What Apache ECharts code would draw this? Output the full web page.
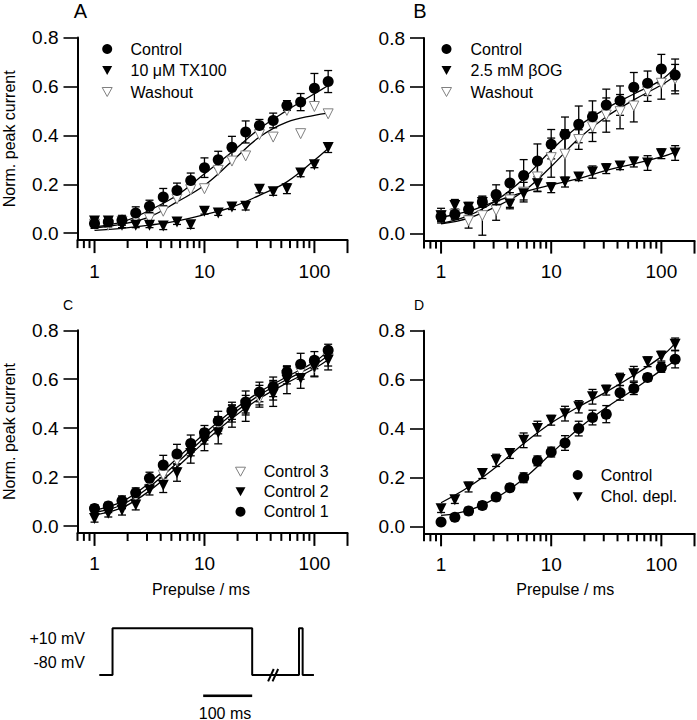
<!DOCTYPE html>
<html>
<head>
<meta charset="utf-8">
<script src="https://cdn.jsdelivr.net/npm/echarts@6/dist/echarts.min.js"></script>
<style>
	html, body { margin: 0; padding: 0; background: #fff; }
	#chart { width: 697px; height: 720px; }
</style>
</head>
<body>
<div id="chart"></div>
<script>
// prepulse durations (ms), one point per 1/8 decade
var PREPULSE = [1, 1.334, 1.778, 2.371, 3.162, 4.217, 5.623, 7.499, 10, 13.34, 17.78, 23.71, 31.62, 42.17, 56.23, 74.99, 100, 133.4];
var FIT_X = [1, 1.778, 3.162, 5.623, 10, 17.78, 31.62, 56.23, 100, 133.4];

var X_MIN = 0.7, X_MAX = 200, Y_MIN = -0.028, Y_MAX = 0.8;
var X_MAJOR = [1, 10, 100, 200];
var X_LABELS = [1, 10, 100];
var X_MINOR = [0.7, 0.8, 0.9, 2, 3, 4, 5, 6, 7, 8, 9, 20, 30, 40, 50, 60, 70, 80, 90];
var Y_TICKS = [0, 0.2, 0.4, 0.6, 0.8];

// panel A
var A_CTRL = [0.04, 0.046, 0.053, 0.083, 0.11, 0.148, 0.175, 0.216, 0.268, 0.30, 0.351, 0.414, 0.44, 0.461, 0.522, 0.536, 0.593, 0.62];
var A_CTRL_ERR = [0.02, 0.02, 0.02, 0.025, 0.025, 0.035, 0.03, 0.03, 0.04, 0.035, 0.045, 0.045, 0.025, 0.03, 0.02, 0.035, 0.06, 0.045];
var A_TX = [0.05, 0.05, 0.033, 0.033, 0.033, 0.03, 0.046, 0.035, 0.09, 0.083, 0.107, 0.11, 0.18, 0.17, 0.182, 0.246, 0.28, 0.35];
var A_TX_ERR = [0.015, 0.015, 0.01, 0.01, 0.01, 0.015, 0.01, 0.015, 0.012, 0.01, 0.01, 0.015, 0.015, 0.015, 0.02, 0.015, 0.012, 0.02];
var A_WASH = [0.037, 0.033, 0.049, 0.06, 0.06, 0.09, 0.14, 0.178, 0.182, 0.257, 0.295, 0.316, 0.403, 0.393, 0.502, 0.407, 0.518, 0.488];
var A_CTRL_FIT = [0.026, 0.046, 0.094, 0.155, 0.243, 0.332, 0.427, 0.502, 0.57, 0.604];
var A_WASH_FIT = [0.022, 0.037, 0.067, 0.128, 0.196, 0.294, 0.393, 0.454, 0.482, 0.491];
var A_TX_FIT = [0.012, 0.02, 0.033, 0.05, 0.076, 0.107, 0.155, 0.21, 0.298, 0.346];

// panel B
var B_CTRL = [0.07, 0.08, 0.10, 0.13, 0.16, 0.207, 0.238, 0.297, 0.366, 0.407, 0.447, 0.478, 0.526, 0.544, 0.599, 0.615, 0.673, 0.649];
var B_CTRL_ERR = [0.02, 0.02, 0.025, 0.02, 0.04, 0.05, 0.065, 0.07, 0.06, 0.07, 0.075, 0.065, 0.065, 0.06, 0.06, 0.05, 0.06, 0.065];
var B_BOG = [0.074, 0.115, 0.108, 0.128, 0.135, 0.122, 0.163, 0.204, 0.188, 0.211, 0.232, 0.252, 0.266, 0.277, 0.293, 0.289, 0.327, 0.33];
var B_BOG_ERR = [0.03, 0.025, 0.02, 0.02, 0.02, 0.02, 0.025, 0.03, 0.02, 0.02, 0.015, 0.025, 0.02, 0.015, 0.02, 0.03, 0.02, 0.03];
var B_WASH = [0.074, 0.08, 0.053, 0.074, 0.095, 0.138, 0.17, 0.232, 0.311, 0.325, 0.385, 0.437, 0.485, 0.499, 0.522, 0.581, 0.615, 0.632];
var B_WASH_ERR = [0.02, 0.02, 0.03, 0.08, 0.04, 0.03, 0.04, 0.06, 0.08, 0.1, 0.04, 0.06, 0.07, 0.07, 0.065, 0.04, 0.065, 0.06];
var B_CTRL_FIT = [0.042, 0.074, 0.136, 0.225, 0.341, 0.44, 0.512, 0.571, 0.629, 0.68];
var B_WASH_FIT = [0.04, 0.064, 0.111, 0.174, 0.275, 0.389, 0.478, 0.547, 0.608, 0.645];
var B_BOG_FIT = [0.067, 0.092, 0.133, 0.17, 0.2, 0.225, 0.259, 0.286, 0.314, 0.334];

// panel C
var C_CTRL1 = [0.072, 0.082, 0.103, 0.136, 0.195, 0.249, 0.294, 0.337, 0.381, 0.429, 0.471, 0.507, 0.548, 0.569, 0.63, 0.661, 0.678, 0.718];
var C_CTRL1_ERR = [0.015, 0.015, 0.02, 0.02, 0.025, 0.04, 0.04, 0.035, 0.03, 0.04, 0.035, 0.045, 0.04, 0.04, 0.025, 0.045, 0.035, 0.025];
var C_CTRL2 = [0.031, 0.052, 0.065, 0.086, 0.147, 0.167, 0.218, 0.297, 0.348, 0.381, 0.449, 0.473, 0.535, 0.539, 0.596, 0.603, 0.65, 0.678];
var C_CTRL2_ERR = [0.015, 0.015, 0.02, 0.02, 0.02, 0.03, 0.035, 0.04, 0.04, 0.045, 0.045, 0.045, 0.04, 0.05, 0.055, 0.04, 0.04, 0.04];
var C_CTRL3 = [0.058, 0.065, 0.086, 0.12, 0.181, 0.208, 0.267, 0.317, 0.365, 0.412, 0.46, 0.494, 0.521, 0.555, 0.616, 0.63, 0.648, 0.684];
var C_CTRL3_ERR = [0.01, 0.01, 0.015, 0.02, 0.02, 0.025, 0.03, 0.03, 0.03, 0.035, 0.035, 0.04, 0.035, 0.04, 0.035, 0.03, 0.035, 0.03];
var C_CTRL1_FIT = [0.065, 0.1, 0.177, 0.276, 0.378, 0.47, 0.548, 0.61, 0.671, 0.716];
var C_CTRL2_FIT = [0.045, 0.075, 0.144, 0.24, 0.344, 0.44, 0.521, 0.585, 0.644, 0.68];
var C_CTRL3_FIT = [0.056, 0.087, 0.16, 0.258, 0.361, 0.456, 0.535, 0.599, 0.657, 0.698];

// panel D
var D_CTRL = [0.018, 0.038, 0.063, 0.086, 0.12, 0.158, 0.199, 0.268, 0.304, 0.341, 0.40, 0.445, 0.459, 0.546, 0.564, 0.609, 0.65, 0.683];
var D_CTRL_ERR = [0.01, 0.012, 0.015, 0.015, 0.015, 0.015, 0.02, 0.02, 0.02, 0.03, 0.03, 0.03, 0.035, 0.03, 0.025, 0.015, 0.02, 0.035];
var D_CHOL = [0.072, 0.109, 0.161, 0.216, 0.27, 0.298, 0.352, 0.40, 0.434, 0.461, 0.489, 0.53, 0.557, 0.601, 0.624, 0.673, 0.696, 0.745];
var D_CHOL_ERR = [0.015, 0.015, 0.02, 0.02, 0.025, 0.02, 0.03, 0.03, 0.02, 0.03, 0.025, 0.03, 0.02, 0.025, 0.03, 0.02, 0.02, 0.025];
var D_CTRL_FIT = [0.045, 0.066, 0.117, 0.195, 0.298, 0.40, 0.486, 0.56, 0.639, 0.677];
var D_CHOL_FIT = [0.097, 0.161, 0.243, 0.339, 0.423, 0.489, 0.55, 0.618, 0.694, 0.748];

// stimulation protocol (ms, mV)
var PROTO_T = [0, 27, 27, 312, 312, 407.5, 407.5, 415, 415, 438];
var PROTO_V = [-80, -80, 10, 10, -80, -80, 10, 10, -80, -80];
var SCALE_T = [212, 312];
var SCALE_V = [-120, -120];
var BREAK1_T = [344.5, 356];
var BREAK2_T = [353.5, 365];
var BREAK_V = [-92.3, -68.4];

var FONT = 'Liberation Sans, Arial, Helvetica, sans-serif';
var TRI_DOWN = 'path://M0,0L10,0L5,9Z';

var chart = echarts.init(document.getElementById('chart'), null, {renderer: 'svg'});

// the prepulse axis is logarithmic: positions are given to a value axis as log10(ms)
var lg = function(v) { return Math.log10(v); };

function pairs(xs, ys) {
	return xs.map(function(x, i) { return [x, ys[i]]; });
}

function errBars(g, ys, es) {
	return {
		type: 'custom',
		name: 'err',
		xAxisIndex: g,
		yAxisIndex: g,
		silent: true,
		z: 1,
		encode: {x: 0, y: 1},
		data: PREPULSE.map(function(x, i) { return [lg(x), ys[i], es[i]]; }),
		renderItem: function(params, api) {
			var x = api.value(0), y = api.value(1), e = api.value(2);
			var hi = api.coord([x, y + e]);
			var lo = api.coord([x, y - e]);
			var w = 4;
			var st = {stroke: '#000', lineWidth: 1.3};
			return {
				type: 'group',
				children: [
					{type: 'line', shape: {x1: hi[0], y1: hi[1], x2: lo[0], y2: lo[1]}, style: st},
					{type: 'line', shape: {x1: hi[0] - w, y1: hi[1], x2: hi[0] + w, y2: hi[1]}, style: st},
					{type: 'line', shape: {x1: lo[0] - w, y1: lo[1], x2: lo[0] + w, y2: lo[1]}, style: st}
				]
			};
		}
	};
}

// tick marks below the log axis: long ones at the decades, short ones in between
function xTicks(g) {
	var rows = X_MAJOR.map(function(v) { return [lg(v), Y_MIN, 13]; })
		.concat(X_MINOR.map(function(v) { return [lg(v), Y_MIN, 8]; }));
	return {
		type: 'custom',
		name: 'ticks',
		xAxisIndex: g,
		yAxisIndex: g,
		silent: true,
		clip: false,
		z: 10,
		encode: {x: 0, y: 1},
		data: rows,
		renderItem: function(params, api) {
			var p = api.coord([api.value(0), api.value(1)]);
			return {
				type: 'rect',
				shape: {x: p[0] - 1, y: p[1], width: 2, height: api.value(2)},
				style: {fill: '#000'}
			};
		}
	};
}

function fitLine(g, ys) {
	return {
		type: 'line',
		name: 'fit',
		xAxisIndex: g,
		yAxisIndex: g,
		data: pairs(FIT_X.map(lg), ys),
		smooth: 0.4,
		showSymbol: false,
		silent: true,
		z: 2,
		lineStyle: {color: '#000', width: 1.3}
	};
}

// kind: 'dot' | 'tri' | 'open'
function points(g, name, ys, kind) {
	var s = {
		type: 'scatter',
		name: name,
		xAxisIndex: g,
		yAxisIndex: g,
		data: pairs(PREPULSE.map(lg), ys),
		symbolSize: 11,
		z: 3,
		silent: true
	};
	if(kind === 'dot') {
		s.symbol = 'circle';
		s.itemStyle = {color: '#000', borderWidth: 0, opacity: 1};
	}else if(kind === 'tri') {
		s.symbol = 'triangle';
		s.symbolRotate = 180;
		s.itemStyle = {color: '#000', borderWidth: 0, opacity: 1};
	}else {
		s.symbol = 'triangle';
		s.symbolRotate = 180;
		s.symbolSize = 10;
		s.itemStyle = {color: '#fff', borderColor: '#808080', borderWidth: 1, opacity: 1};
	}
	return s;
}

var grids = [
	{left: 77.5, top: 37.5, width: 270, height: 202.6},
	{left: 424, top: 38, width: 270.5, height: 202.6},
	{left: 77.5, top: 330.3, width: 270, height: 202.6},
	{left: 424, top: 330.7, width: 270.5, height: 202.6},
	{left: 99.3, top: 623.1, width: 215.6, height: 72.7}
];

var xAxes = [];
var yAxes = [];
[0, 1, 2, 3].forEach(function(g) {
	var x = {
		type: 'value',
		gridIndex: g,
		position: 'bottom',
		min: lg(X_MIN),
		max: lg(X_MAX),
		axisLine: {show: true, onZero: false, lineStyle: {color: '#000', width: 2}},
		axisTick: {show: false},
		axisLabel: {
			customValues: X_LABELS.map(lg), margin: 21.5, color: '#000', fontSize: 19, fontFamily: FONT,
			formatter: function(v) { return String(Math.round(Math.pow(10, v))); }
		},
		splitLine: {show: false}
	};
	if(g >= 2) {
		x.name = 'Prepulse / ms';
		x.nameLocation = 'middle';
		x.nameGap = 48.5;
		x.nameTextStyle = {fontSize: 16, fontFamily: FONT, color: '#000', padding: g === 2 ? [0, 23, 0, 0] : [0, 0, 0, 12]};
	}
	xAxes.push(x);
	var y = {
		type: 'value',
		gridIndex: g,
		min: Y_MIN,
		max: Y_MAX,
		axisLine: {show: true, onZero: false, lineStyle: {color: '#000', width: 2}},
		axisTick: {show: true, customValues: Y_TICKS, length: 14, lineStyle: {color: '#000', width: 1.6}},
		axisLabel: {
			customValues: Y_TICKS, margin: 19, color: '#000', fontSize: 19, fontFamily: FONT,
			formatter: function(v) { return v.toFixed(1); }
		},
		splitLine: {show: false}
	};
	if(g % 2 === 0) {
		y.name = 'Norm. peak current';
		y.nameLocation = 'middle';
		y.nameGap = 60;
		y.nameTextStyle = {fontSize: 16, fontFamily: FONT, color: '#000'};
	}
	yAxes.push(y);
});
// protocol axes (hidden)
xAxes.push({type: 'value', gridIndex: 4, min: 0, max: 440, show: false});
yAxes.push({type: 'value', gridIndex: 4, min: -120, max: 20, show: false});

var series = [
	// A
	errBars(0, A_CTRL, A_CTRL_ERR),
	errBars(0, A_TX, A_TX_ERR),
	fitLine(0, A_CTRL_FIT),
	fitLine(0, A_WASH_FIT),
	fitLine(0, A_TX_FIT),
	points(0, 'Washout', A_WASH, 'open'),
	points(0, '10 μM TX100', A_TX, 'tri'),
	points(0, 'Control', A_CTRL, 'dot'),
	// B
	errBars(1, B_CTRL, B_CTRL_ERR),
	errBars(1, B_BOG, B_BOG_ERR),
	errBars(1, B_WASH, B_WASH_ERR),
	fitLine(1, B_CTRL_FIT),
	fitLine(1, B_WASH_FIT),
	fitLine(1, B_BOG_FIT),
	points(1, 'Washout', B_WASH, 'open'),
	points(1, '2.5 mM βOG', B_BOG, 'tri'),
	points(1, 'Control', B_CTRL, 'dot'),
	// C
	errBars(2, C_CTRL1, C_CTRL1_ERR),
	errBars(2, C_CTRL2, C_CTRL2_ERR),
	errBars(2, C_CTRL3, C_CTRL3_ERR),
	fitLine(2, C_CTRL1_FIT),
	fitLine(2, C_CTRL2_FIT),
	fitLine(2, C_CTRL3_FIT),
	points(2, 'Control 3', C_CTRL3, 'open'),
	points(2, 'Control 2', C_CTRL2, 'tri'),
	points(2, 'Control 1', C_CTRL1, 'dot'),
	// D
	errBars(3, D_CTRL, D_CTRL_ERR),
	errBars(3, D_CHOL, D_CHOL_ERR),
	fitLine(3, D_CTRL_FIT),
	fitLine(3, D_CHOL_FIT),
	points(3, 'Chol. depl.', D_CHOL, 'tri'),
	points(3, 'Control', D_CTRL, 'dot'),
	// protocol
	{
		type: 'line', name: 'protocol', xAxisIndex: 4, yAxisIndex: 4, silent: true,
		data: pairs(PROTO_T, PROTO_V), showSymbol: false,
		lineStyle: {color: '#000', width: 2}
	},
	{
		type: 'line', name: 'scalebar', xAxisIndex: 4, yAxisIndex: 4, silent: true,
		data: pairs(SCALE_T, SCALE_V), showSymbol: false,
		lineStyle: {color: '#000', width: 2.7}
	},
	{
		type: 'line', name: 'break1', xAxisIndex: 4, yAxisIndex: 4, silent: true,
		data: pairs(BREAK1_T, BREAK_V), showSymbol: false,
		lineStyle: {color: '#000', width: 2}
	},
	{
		type: 'line', name: 'break2', xAxisIndex: 4, yAxisIndex: 4, silent: true,
		data: pairs(BREAK2_T, BREAK_V), showSymbol: false,
		lineStyle: {color: '#000', width: 2}
	},
	xTicks(0), xTicks(1), xTicks(2), xTicks(3)
];

function legendItem(name, kind) {
	if(kind === 'dot') {
		return {name: name, icon: 'circle', itemStyle: {color: '#000', borderWidth: 0}};
	}
	if(kind === 'tri') {
		return {name: name, icon: TRI_DOWN, itemStyle: {color: '#000', borderWidth: 0}};
	}
	return {name: name, icon: TRI_DOWN, itemStyle: {color: '#fff', borderColor: '#808080', borderWidth: 1}};
}

function legend(items, left, top, gap, pad) {
	return {
		data: items,
		orient: 'vertical',
		left: left,
		top: top,
		padding: 0,
		itemWidth: 10,
		itemHeight: 10,
		itemGap: gap,
		symbolRotate: 0,
		selectedMode: false,
		textStyle: {fontSize: 16, fontFamily: FONT, color: '#000', lineHeight: 16, padding: [0, 0, 0, pad]}
	};
}

var option = {
	animation: false,
	grid: grids,
	xAxis: xAxes,
	yAxis: yAxes,
	legend: [
		legend([legendItem('Control', 'dot'), legendItem('10 μM TX100', 'tri'), legendItem('Washout', 'open')], 101.7, 41, 5.5, 13.3),
		legend([legendItem('Control', 'dot'), legendItem('2.5 mM βOG', 'tri'), legendItem('Washout', 'open')], 441, 41, 5.5, 14),
		legend([legendItem('Control 3', 'open'), legendItem('Control 2', 'tri'), legendItem('Control 1', 'dot')], 235, 463.7, 4, 13.3),
		legend([legendItem('Control', 'dot'), legendItem('Chol. depl.', 'tri')], 572.7, 467, 5.7, 13)
	],
	graphic: [
		{type: 'text', x: 80.5, y: 11, style: {text: 'A', font: '20px ' + FONT, fill: '#000', align: 'center', verticalAlign: 'middle'}},
		{type: 'text', x: 420, y: 11, style: {text: 'B', font: '20px ' + FONT, fill: '#000', align: 'center', verticalAlign: 'middle'}},
		{type: 'text', x: 68, y: 305, style: {text: 'C', font: '14px ' + FONT, fill: '#000', align: 'center', verticalAlign: 'middle'}},
		{type: 'text', x: 419, y: 305, style: {text: 'D', font: '14px ' + FONT, fill: '#000', align: 'center', verticalAlign: 'middle'}},
		{type: 'text', x: 85, y: 638, style: {text: '+10 mV', font: '16px ' + FONT, fill: '#000', align: 'right', verticalAlign: 'middle'}},
		{type: 'text', x: 85, y: 662.5, style: {text: '-80 mV', font: '16px ' + FONT, fill: '#000', align: 'right', verticalAlign: 'middle'}},
		{type: 'text', x: 225, y: 713, style: {text: '100 ms', font: '16px ' + FONT, fill: '#000', align: 'center', verticalAlign: 'middle'}}
	],
	series: series
};

chart.setOption(option);
</script>
</body>
</html>
